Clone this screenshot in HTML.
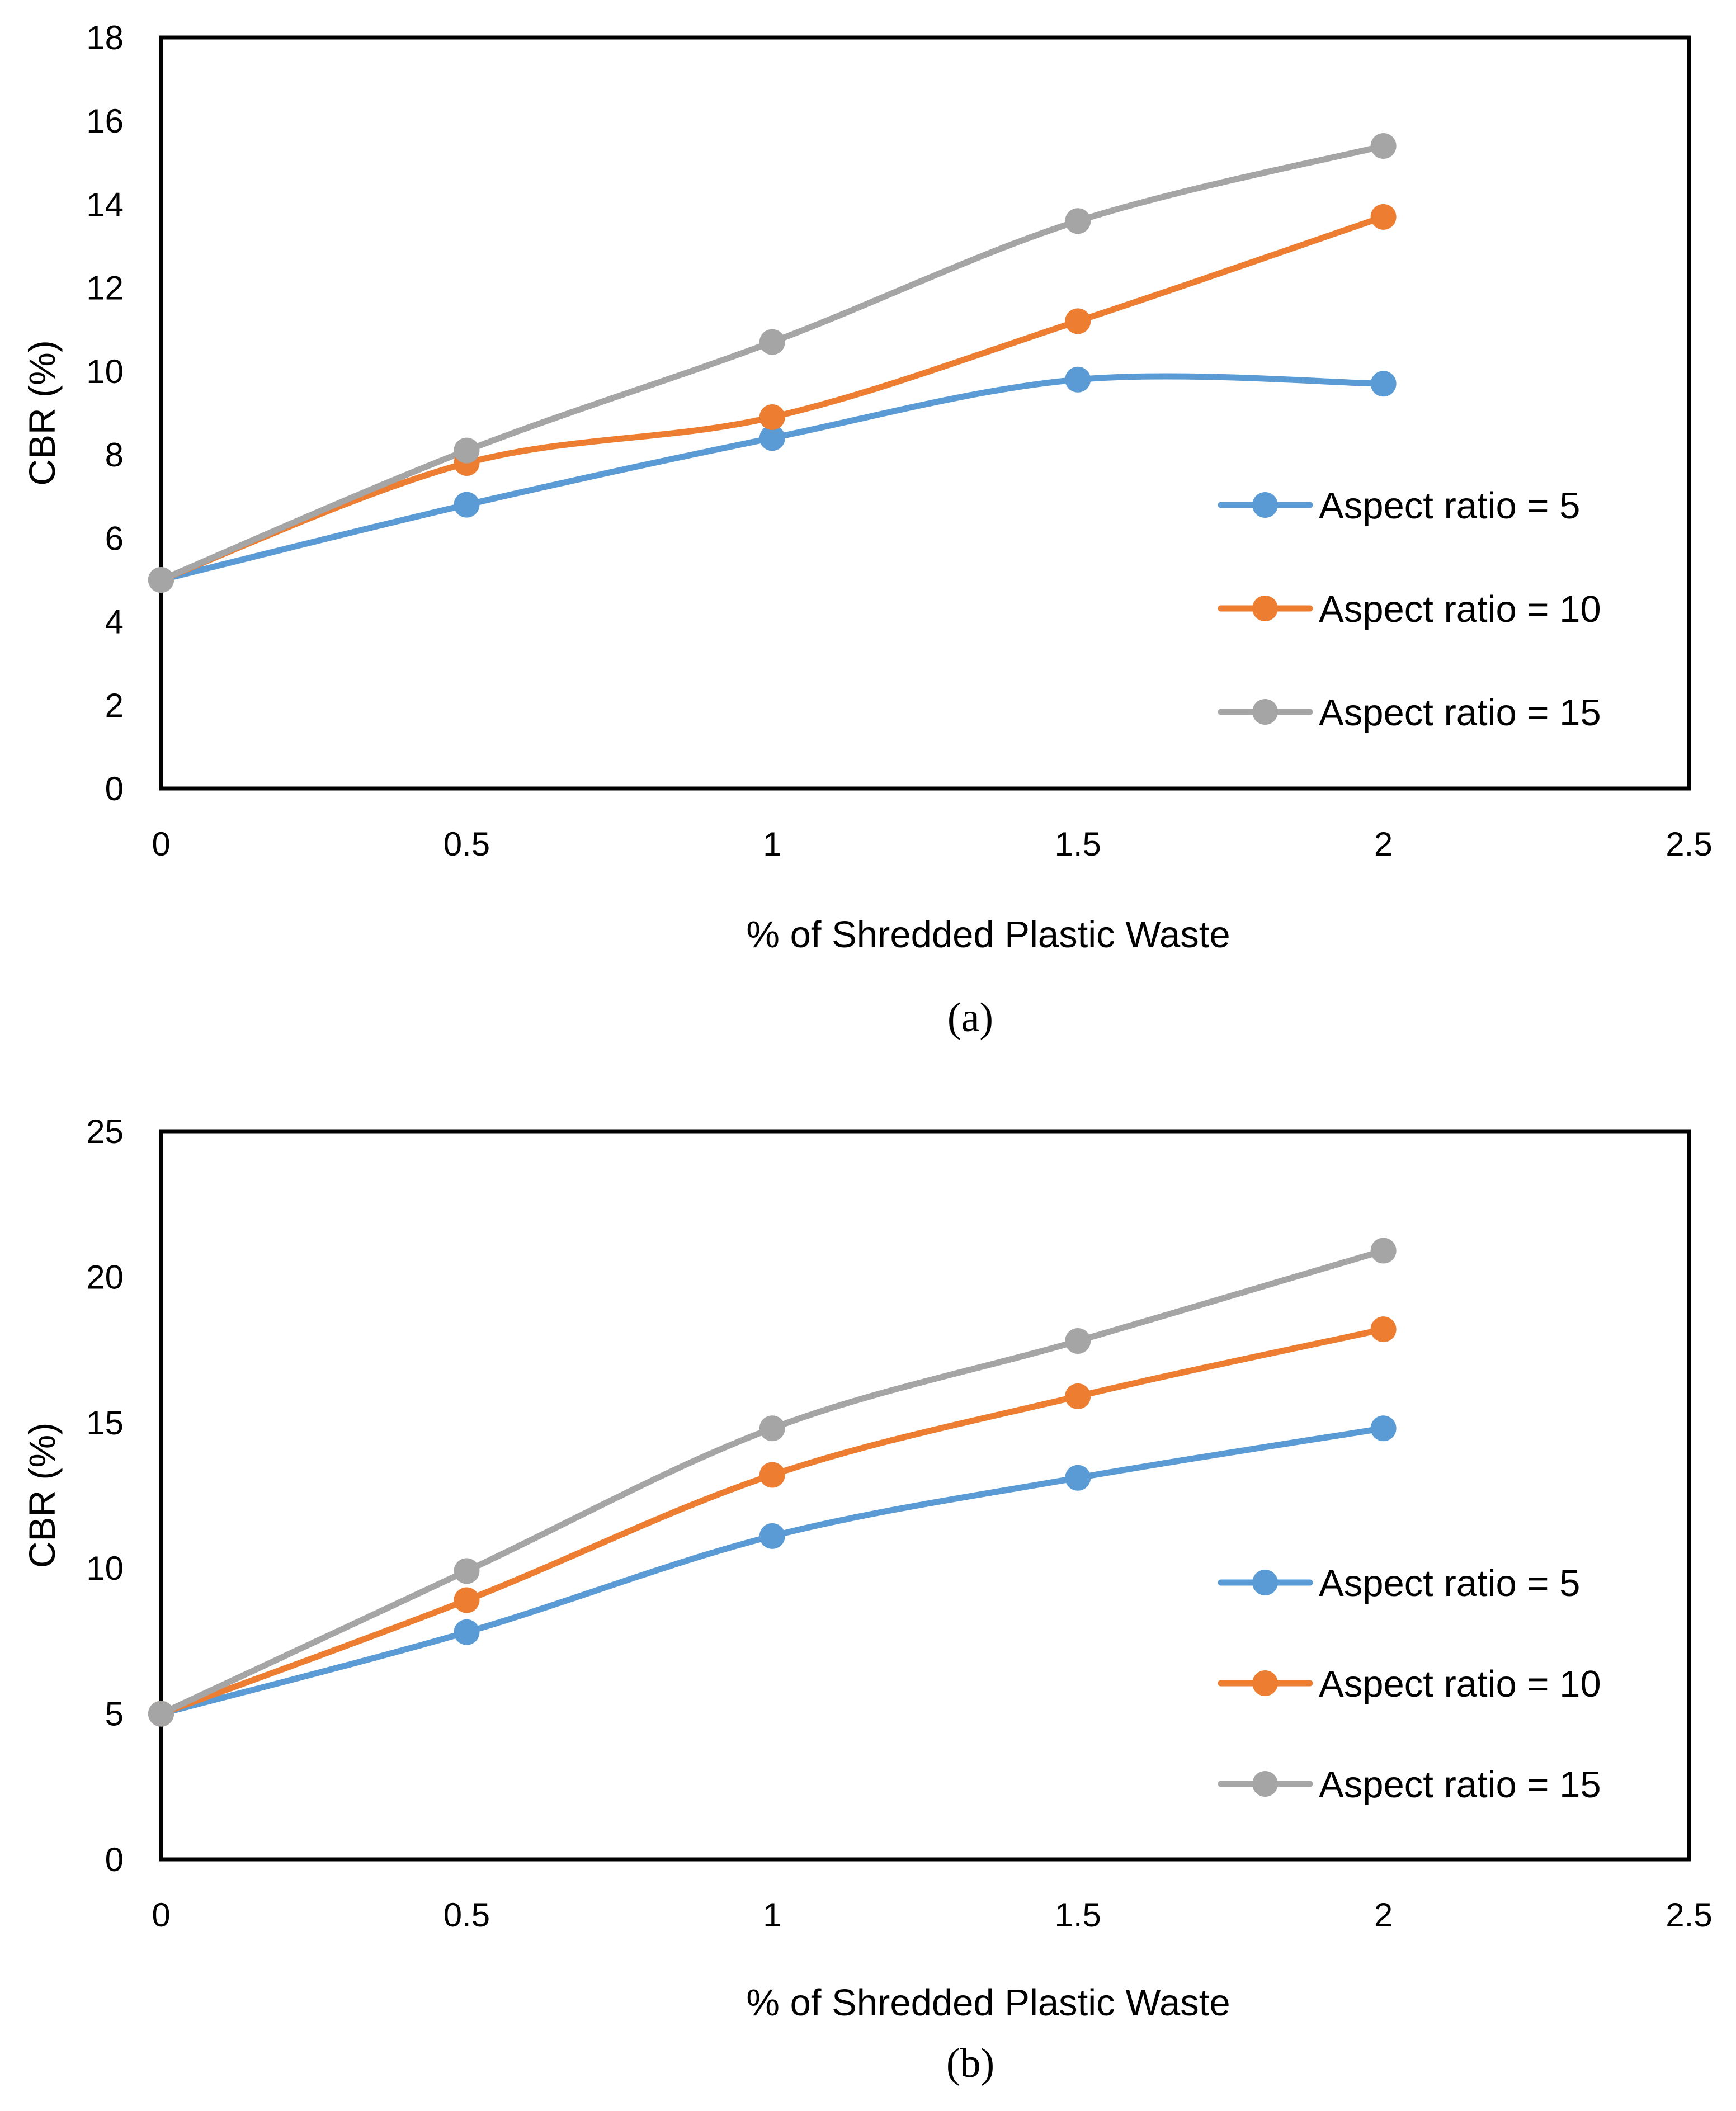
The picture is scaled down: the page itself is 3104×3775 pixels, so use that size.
<!DOCTYPE html>
<html><head><meta charset="utf-8"><style>
html,body{margin:0;padding:0;background:#fff;}
svg{display:block;font-family:"Liberation Sans",sans-serif;}
</style></head><body>
<svg id="fig" width="3104" height="3775" viewBox="0 0 3104 3775" xmlns="http://www.w3.org/2000/svg"></svg>
<script>
const xCategories = [0, 0.5, 1, 1.5, 2];
const xTickLabels = ["0", "0.5", "1", "1.5", "2", "2.5"];
const xTickValues = [0, 0.5, 1, 1.5, 2, 2.5];
const seriesNames = ["Aspect ratio = 5", "Aspect ratio = 10", "Aspect ratio = 15"];
const aBlue = [5, 6.8, 8.4, 9.8, 9.7];
const aOrange = [5, 7.8, 8.9, 11.2, 13.7];
const aGray = [5, 8.1, 10.7, 13.6, 15.4];
const bBlue = [5, 7.8, 11.1, 13.1, 14.8];
const bOrange = [5, 8.9, 13.2, 15.9, 18.2];
const bGray = [5, 9.9, 14.8, 17.8, 20.9];
const aYTicks = [0, 2, 4, 6, 8, 10, 12, 14, 16, 18];
const bYTicks = [0, 5, 10, 15, 20, 25];

const NS = "http://www.w3.org/2000/svg";
const svg = document.getElementById("fig");
const colors = ["#5B9BD5", "#ED7D31", "#A5A5A5"];
function mk(tag, attrs, parent) {
  const e = document.createElementNS(NS, tag);
  for (const k in attrs) e.setAttribute(k, attrs[k]);
  (parent || svg).appendChild(e);
  return e;
}
function spline(pts) {
  let d = "M" + pts[0][0] + "," + pts[0][1];
  const t = 1 / 6;
  for (let i = 0; i < pts.length - 1; i++) {
    const p0 = pts[Math.max(0, i - 1)], p1 = pts[i], p2 = pts[i + 1], p3 = pts[Math.min(pts.length - 1, i + 2)];
    const c1x = p1[0] + (p2[0] - p0[0]) * t, c1y = p1[1] + (p2[1] - p0[1]) * t;
    const c2x = p2[0] - (p3[0] - p1[0]) * t, c2y = p2[1] - (p3[1] - p1[1]) * t;
    d += " C" + c1x + "," + c1y + " " + c2x + "," + c2y + " " + p2[0] + "," + p2[1];
  }
  return d;
}
function chart(cfg) {
  const g = mk("g", {});
  
  
  const L = 288, R = 3020, T = cfg.top, B = cfg.bottom;
  const xS = v => L + (v / 2.5) * (R - L);
  const yS = v => B - (v / cfg.ymax) * (B - T);
  cfg.yticks.forEach(v => {
    const t = mk("text", {x: 221, y: yS(v) + 21, "text-anchor": "end", "font-size": 60, fill: "#000"}, g);
    t.textContent = String(v);
    
    
  });
  xTickValues.forEach((v, i) => {
    const t = mk("text", {x: xS(v), y: cfg.xTickY, "text-anchor": "middle", "font-size": 60, fill: "#000"}, g);
    t.textContent = xTickLabels[i];
    
    
  });
  const yt = mk("text", {x: 0, y: 0, transform: "translate(98," + (T + B) / 2 + ") rotate(-90)", "text-anchor": "middle", "font-size": 66, fill: "#000"}, g);
  yt.textContent = "CBR (%)";
  
  
  const xt = mk("text", {x: 1767, y: cfg.xTitleY, "text-anchor": "middle", "font-size": 67, fill: "#000"}, g);
  xt.textContent = "% of Shredded Plastic Waste";
  
  
  const cap = mk("text", {x: 1735, y: cfg.capY, "text-anchor": "middle", "font-size": 74, fill: "#000", "font-family": "Liberation Serif, serif"}, g);
  cap.textContent = cfg.caption;
  
  
  const box = mk("rect", {x: L, y: T, width: R - L, height: B - T, fill: "none", stroke: "#000", "stroke-width": 7}, g);
  
  
  cfg.series.forEach((vals, si) => {
    const pts = xCategories.map((x, i) => [xS(x), yS(vals[i])]);
    const p = mk("path", {d: spline(pts), fill: "none", stroke: colors[si], "stroke-width": 11, "stroke-linejoin": "round"}, g);
    
    
  });
  cfg.series.forEach((vals, si) => {
    xCategories.forEach((x, i) => {
      const c = mk("circle", {cx: xS(x), cy: yS(vals[i]), r: 23, fill: colors[si]}, g);
      
      
    });
  });
  cfg.legendY.forEach((ly, si) => {
    const l = mk("line", {x1: 2183, y1: ly, x2: 2342, y2: ly, stroke: colors[si], "stroke-width": 11, "stroke-linecap": "round"}, g);
    
    
    const c = mk("circle", {cx: 2262, cy: ly, r: 23, fill: colors[si]}, g);
    
    
    const t = mk("text", {x: 2358, y: ly + 24, "font-size": 67, fill: "#000"}, g);
    t.textContent = seriesNames[si];
    
    
  });
}
chart({name: "chart-a", top: 67, bottom: 1410, ymax: 18, yticks: aYTicks, series: [aBlue, aOrange, aGray],
  xTickY: 1530, xTitleY: 1694, capY: 1844, caption: "(a)", legendY: [903, 1088, 1273]});
chart({name: "chart-b", top: 2023, bottom: 3325, ymax: 25, yticks: bYTicks, series: [bBlue, bOrange, bGray],
  xTickY: 3445, xTitleY: 3604, capY: 3714, caption: "(b)", legendY: [2830, 3010, 3190]});
</script>
</body></html>
